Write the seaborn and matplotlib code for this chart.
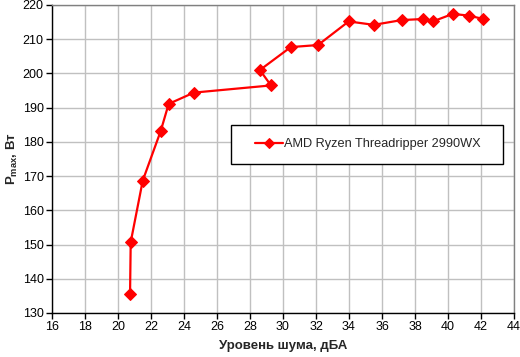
import matplotlib
matplotlib.use("Agg")
import matplotlib.pyplot as plt
from matplotlib.patches import Rectangle
import seaborn as sns
import pandas as pd

noise = [20.73, 20.77, 21.5, 22.59, 23.07, 24.6, 29.27, 28.6, 30.47, 32.12,
         33.98, 35.5, 37.2, 38.47, 39.08, 40.29, 41.26, 42.15]
pmax = [135.5, 150.7, 168.7, 183.2, 191.1, 194.4, 196.5, 201.0, 207.7, 208.3,
        215.2, 214.2, 215.6, 215.9, 215.2, 217.4, 216.9, 215.9]
series = "AMD Ryzen Threadripper 2990WX"
xticks = list(range(16, 45, 2))
yticks = list(range(130, 221, 10))

df = pd.DataFrame({"x": noise, "y": pmax, "s": [series] * len(noise)})

sns.set_style("white")
plt.rcParams["font.family"] = ["Liberation Sans", "DejaVu Sans"]

W, H = 520, 357
fig = plt.figure(figsize=(W / 100, H / 100), dpi=100)
ax = fig.add_axes([52 / W, 1 - 313 / H, (514 - 52) / W, (313 - 5) / H])

sns.lineplot(data=df, x="x", y="y", hue="s", sort=False, estimator=None,
             palette=["#ff0000"], marker="D", markersize=6, linewidth=1.6,
             markeredgecolor="#ff0000", ax=ax)

ax.set_xlim(16, 44)
ax.set_ylim(130, 220)
ax.set_xticks(xticks)
ax.set_yticks(yticks)
ax.tick_params(axis="both", labelsize=9, colors="black", length=4, width=1,
               direction="out", bottom=True, left=True, pad=2)
ax.grid(True, color="#c0c0c0", linewidth=1)
ax.set_axisbelow(True)
for s in ["top", "right"]:
    ax.spines[s].set_color("#808080")
    ax.spines[s].set_linewidth(1)
for s in ["left", "bottom"]:
    ax.spines[s].set_color("black")
    ax.spines[s].set_linewidth(1)

ax.set_xlabel("Уровень шума, дБА", fontsize=9.5, fontweight="bold", labelpad=5)
ax.set_ylabel(r"P$_{\mathregular{max}}$, Вт", fontsize=9.5, fontweight="bold", labelpad=2)

# legend box frame (pixels 231..503 x 125..164)
box = Rectangle((231 / W, 1 - 164 / H), (503 - 231) / W, (164 - 125) / H,
                transform=fig.transFigure, facecolor="white", edgecolor="black",
                linewidth=1, zorder=4)
ax.add_patch(box)

leg = ax.legend(loc="center left", bbox_to_anchor=(255 / W, 1 - 144.5 / H),
                bbox_transform=fig.transFigure,
                frameon=False, fontsize=9.2, handlelength=2.2,
                borderpad=0, borderaxespad=0, handletextpad=0.1)
leg.set_zorder(5)
for h in leg.legend_handles:
    h.set_markersize(5)

fig.savefig("out.png", dpi=100)
